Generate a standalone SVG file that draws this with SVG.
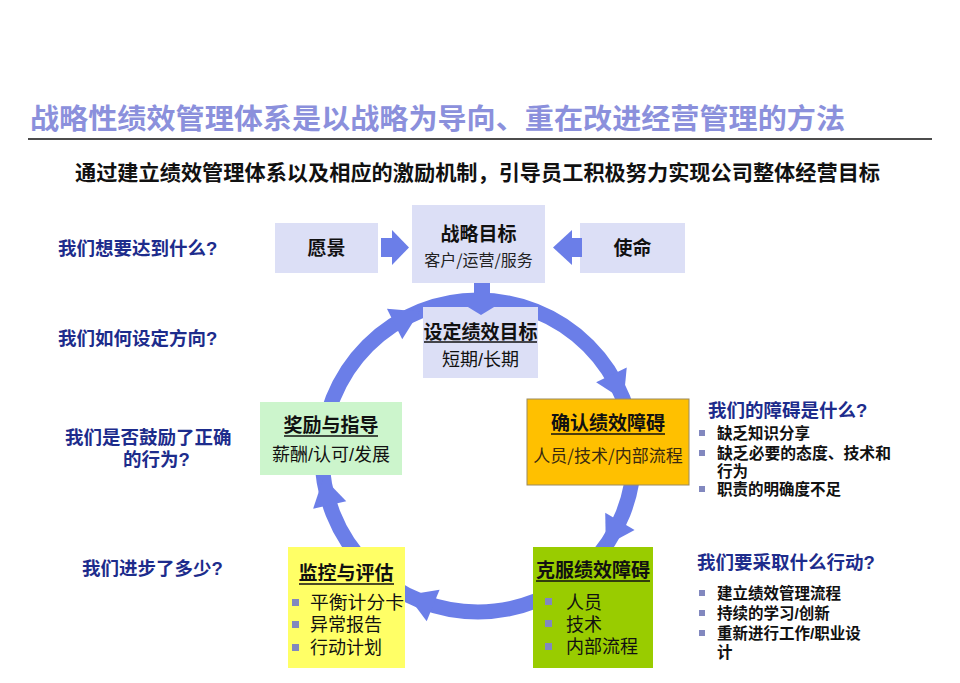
<svg xmlns="http://www.w3.org/2000/svg" width="960" height="683" viewBox="0 0 960 683">
<defs>
<style>
text{font-family:"Liberation Sans","Noto Sans CJK SC",sans-serif;}
.cjk{font-family:"Noto Sans CJK SC","Liberation Sans",sans-serif;}
.q{font-family:"Liberation Sans","Noto Sans CJK SC",sans-serif;font-weight:bold;font-size:18.5px;fill:#1d2c8c;}
.bt{font-family:"Noto Sans CJK SC",sans-serif;font-weight:bold;font-size:19px;fill:#111;}
.rt{font-family:"Liberation Sans","Noto Sans CJK SC",sans-serif;font-size:18px;fill:#111;}
.rb{font-family:"Liberation Sans","Noto Sans CJK SC",sans-serif;font-weight:bold;font-size:15.5px;fill:#111;}
.lav{fill:#dcdff6;}
.arc{fill:none;stroke:#6b7ee8;stroke-width:15;}
.ah{fill:#6b7ee8;}
.ul{stroke:#111;stroke-width:1.5;}
.bl{fill:#8288bf;}
</style>
<polygon id="ah" points="0,0 -28,-17 -28,17"/>
</defs>
<rect width="960" height="683" fill="#ffffff"/>

<g id="title">
<text class="cjk" x="30" y="128.5" font-size="28" font-weight="bold" fill="#8b90dc" textLength="815" lengthAdjust="spacingAndGlyphs">战略性绩效管理体系是以战略为导向、重在改进经营管理的方法</text>
<line x1="28" y1="139" x2="932" y2="139" stroke="#111" stroke-width="1.5"/>
<text class="cjk" x="75" y="179.5" font-size="21" font-weight="bold" fill="#111" textLength="805" lengthAdjust="spacingAndGlyphs">通过建立绩效管理体系以及相应的激励机制，引导员工积极努力实现公司整体经营目标</text>
</g>

<g id="questions-left">
<text class="q" x="58" y="255">我们想要达到什么?</text>
<text class="q" x="58" y="345">我们如何设定方向?</text>
<text class="q" x="65" y="444">我们是否鼓励了正确</text>
<text class="q" x="123" y="466">的行为?</text>
<text class="q" x="82" y="575">我们进步了多少?</text>
</g>

<g id="connectors">
<circle class="arc" cx="478" cy="456" r="156"/>
<use href="#ah" class="ah" transform="translate(419.6,311.4) rotate(333.25)"/>
<use href="#ah" class="ah" transform="translate(623.6,400.1) rotate(64.25)"/>
<use href="#ah" class="ah" transform="translate(605.8,545.5) rotate(120.25)"/>
<use href="#ah" class="ah" transform="translate(407.2,595) rotate(202.25)"/>
<use href="#ah" class="ah" transform="translate(323.5,477.7) rotate(257.25)"/>
</g>

<g id="vision">
<rect class="lav" x="275" y="223" width="103" height="50"/>
<text class="bt" x="326.5" y="255" text-anchor="middle">愿景</text>
</g>
<g id="mission">
<rect class="lav" x="580" y="223" width="105" height="50"/>
<text class="bt" x="632.5" y="255" text-anchor="middle">使命</text>
</g>
<g id="strategic-goal">
<rect class="lav" x="412" y="205" width="133" height="78"/>
<text class="bt" x="478.5" y="241" text-anchor="middle">战略目标</text>
<text class="cjk" x="478.5" y="266" text-anchor="middle" font-size="16" fill="#222">客户/运营/服务</text>
</g>

<g id="side-arrows">
<rect class="ah" x="381" y="238" width="13" height="19"/>
<polygon class="ah" points="392,230 409,247.5 392,265"/>
<rect class="ah" x="571" y="238" width="11" height="19"/>
<polygon class="ah" points="572,230 553,247.5 572,265"/>
</g>

<g id="set-goal">
<rect class="lav" x="423" y="307" width="115" height="71"/>
<text class="bt" x="480.5" y="339" text-anchor="middle">设定绩效目标</text>
<line class="ul" x1="424" y1="342" x2="537" y2="342"/>
<text class="rt" x="480.5" y="366" text-anchor="middle" font-size="19">短期/长期</text>
</g>

<g id="down-arrow">
<rect class="ah" x="474" y="283" width="16" height="22"/>
<polygon class="ah" points="463,304 499,304 481,315"/>
</g>

<g id="reward">
<rect x="260" y="402" width="142" height="73" fill="#ccf5cc"/>
<text class="bt" x="331" y="432" text-anchor="middle">奖励与指导</text>
<line class="ul" x1="284" y1="436" x2="378" y2="436"/>
<text class="rt" x="331" y="461" text-anchor="middle" font-size="19">薪酬/认可/发展</text>
</g>

<g id="identify">
<rect x="527" y="399" width="162" height="86" fill="#ffc000" stroke="#9a8a60" stroke-width="1"/>
<text class="bt" x="608" y="430" text-anchor="middle">确认绩效障碍</text>
<line class="ul" x1="551" y1="434" x2="665" y2="434"/>
<text class="cjk" x="608" y="462" text-anchor="middle" font-size="17" fill="#3a2a10">人员/技术/内部流程</text>
</g>

<g id="overcome">
<rect x="533" y="547" width="120" height="121" fill="#99cc00"/>
<text class="bt" x="593" y="577" text-anchor="middle">克服绩效障碍</text>
<line class="ul" x1="536" y1="581" x2="650" y2="581"/>
<rect class="bl" x="545" y="598" width="7" height="7"/>
<rect class="bl" x="545" y="620" width="7" height="7"/>
<rect class="bl" x="545" y="643" width="7" height="7"/>
<text class="rt" x="566" y="609">人员</text>
<text class="rt" x="566" y="631">技术</text>
<text class="rt" x="566" y="653">内部流程</text>
</g>

<g id="monitor">
<rect x="288" y="547" width="117" height="121" fill="#ffff66"/>
<text class="bt" x="346" y="580" text-anchor="middle">监控与评估</text>
<line class="ul" x1="299" y1="584" x2="394" y2="584"/>
<rect class="bl" x="292" y="599" width="7" height="7"/>
<rect class="bl" x="292" y="621" width="7" height="7"/>
<rect class="bl" x="292" y="644" width="7" height="7"/>
<text class="rt" x="310" y="609" textLength="94" lengthAdjust="spacingAndGlyphs">平衡计分卡</text>
<text class="rt" x="310" y="631">异常报告</text>
<text class="rt" x="310" y="654">行动计划</text>
</g>

<g id="obstacles-text">
<text class="q" x="708" y="417" font-size="18">我们的障碍是什么?</text>
<rect class="bl" x="699" y="430" width="6" height="6"/>
<rect class="bl" x="699" y="450" width="6" height="6"/>
<rect class="bl" x="699" y="486" width="6" height="6"/>
<text class="rb" x="717" y="439">缺乏知识分享</text>
<text class="rb" x="717" y="459" textLength="174" lengthAdjust="spacingAndGlyphs">缺乏必要的态度、技术和</text>
<text class="rb" x="717" y="477">行为</text>
<text class="rb" x="717" y="495">职责的明确度不足</text>
</g>

<g id="actions-text">
<text class="q" x="697" y="569" font-size="18">我们要采取什么行动?</text>
<rect class="bl" x="699" y="590" width="6" height="6"/>
<rect class="bl" x="699" y="610" width="6" height="6"/>
<rect class="bl" x="699" y="630" width="6" height="6"/>
<text class="rb" x="717" y="599">建立绩效管理流程</text>
<text class="rb" x="717" y="619">持续的学习/创新</text>
<text class="rb" x="717" y="639">重新进行工作/职业设</text>
<text class="rb" x="717" y="658">计</text>
</g>
</svg>
